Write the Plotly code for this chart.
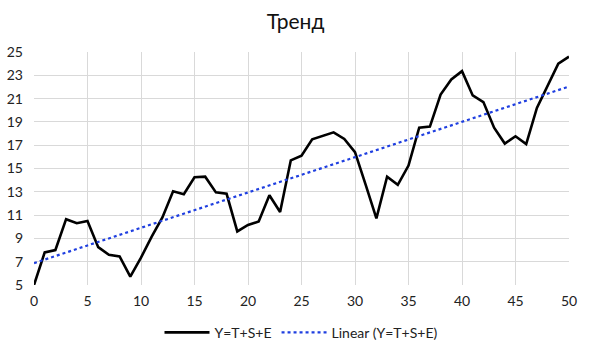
import numpy as np
import plotly.graph_objects as go

x_vals = list(range(0, 51))
y_vals = [5.0, 7.8, 8.0, 10.65, 10.3, 10.5, 8.25, 7.6, 7.45, 5.72,
          7.35, 9.15, 10.8, 13.05, 12.8, 14.25, 14.3, 12.95, 12.83, 9.6,
          10.15, 10.45, 12.7, 11.26, 15.7, 16.1, 17.5, 17.77, 18.1, 17.54,
          16.4, 13.6, 10.72, 14.3, 13.6, 15.25, 18.5, 18.6, 21.35, 22.65,
          23.36, 21.27, 20.7, 18.5, 17.14, 17.77, 17.1, 20.2, 22.07, 24.0,
          24.6]
series_name = "Y=T+S+E"
trend_name = "Linear (Y=T+S+E)"
title_text = "Тренд"

slope, intercept = np.polyfit(x_vals, y_vals, 1)
trend_y = [slope * xv + intercept for xv in x_vals]

font_family = "Lato, 'Open Sans', sans-serif"

fig = go.Figure()
fig.add_trace(go.Scatter(x=x_vals, y=y_vals, mode="lines", name=series_name,
                         line=dict(color="black", width=2.6)))
fig.add_trace(go.Scatter(x=x_vals, y=trend_y, mode="lines", name=trend_name,
                         line=dict(color="#1f3fe0", width=2.2, dash="dot")))

fig.update_layout(
    width=591, height=354,
    margin=dict(l=34, r=22, t=52, b=69),
    paper_bgcolor="white", plot_bgcolor="white",
    title=dict(text=title_text, x=0.5, xanchor="center", y=0.94, yanchor="middle",
               font=dict(family=font_family, size=21, color="#111")),
    font=dict(family=font_family, size=14, color="#222"),
    showlegend=True,
    legend=dict(orientation="h", x=0.5, xanchor="center",
                yref="container", y=0.06, yanchor="middle",
                font=dict(size=14, color="#222"), itemwidth=45),
    xaxis=dict(range=[0, 50], tickmode="linear", tick0=0, dtick=5,
               showgrid=True, gridcolor="#d9d9d9", gridwidth=1,
               zeroline=False, showline=False, ticks="", ticklen=0,
               ticklabelstandoff=6, automargin=False),
    yaxis=dict(range=[5, 25], tickmode="linear", tick0=5, dtick=2,
               showgrid=True, gridcolor="#d9d9d9", gridwidth=1,
               zeroline=False, showline=False, ticks="", ticklen=0,
               ticklabelstandoff=10, automargin=False),
)

fig.write_html("out.html")
